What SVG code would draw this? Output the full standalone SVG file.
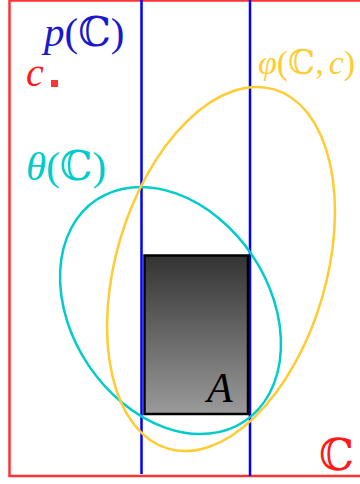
<svg xmlns="http://www.w3.org/2000/svg" width="360" height="484" viewBox="0 0 360 484">
<defs>
<linearGradient id="g" x1="0" y1="0" x2="0" y2="1">
<stop offset="0" stop-color="#333333"/>
<stop offset="1" stop-color="#9a9a9a"/>
</linearGradient>
</defs>
<style>
.t{font-family:"Liberation Serif","DejaVu Serif",serif;}
.i{font-style:italic;}
</style>
<g id="space">
<rect x="9.5" y="0.5" width="360" height="475.5" fill="none" stroke="#ff3333" stroke-width="2.5"/>
<text class="t" x="319" y="470" font-size="44" fill="#ff1a1a">ℂ</text>
</g>
<g id="projection">
<line x1="141.5" y1="0" x2="141.5" y2="474" stroke="#0000ff" stroke-width="2.5"/>
<line x1="250" y1="0" x2="250" y2="476" stroke="#0000ff" stroke-width="2.5"/>
<text class="t" x="44" y="46" font-size="41" fill="#1a1acc"><tspan class="i">p</tspan>(ℂ)</text>
</g>
<g id="A">
<rect x="144.5" y="255.5" width="103.5" height="158.5" fill="url(#g)" stroke="#000" stroke-width="2.5"/>
<text class="t i" x="207" y="402" font-size="42" fill="#000">A</text>
</g>
<g id="theta">
<ellipse cx="170.5" cy="310.5" rx="98.6" ry="133.2" transform="rotate(-33.8 170.5 310.5)" fill="none" stroke="#00cccc" stroke-width="2.5"/>
<text class="t" x="26" y="180" font-size="41" fill="#00cccc"><tspan class="i">θ</tspan>(ℂ)</text>
</g>
<g id="phi">
<ellipse cx="221" cy="269" rx="105.1" ry="187.3" transform="rotate(16.5 221 269)" fill="none" stroke="#ffcc33" stroke-width="2.5"/>
<text class="t" x="258" y="74" font-size="34" fill="#ffcc33"><tspan class="i">φ</tspan>(ℂ,<tspan class="i" dx="5">c</tspan>)</text>
</g>
<g id="c">
<text class="t i" x="26" y="86" font-size="40" fill="#ff1a1a">c</text>
<rect x="51" y="80" width="7" height="7" fill="#ff3333"/>
</g>
</svg>
